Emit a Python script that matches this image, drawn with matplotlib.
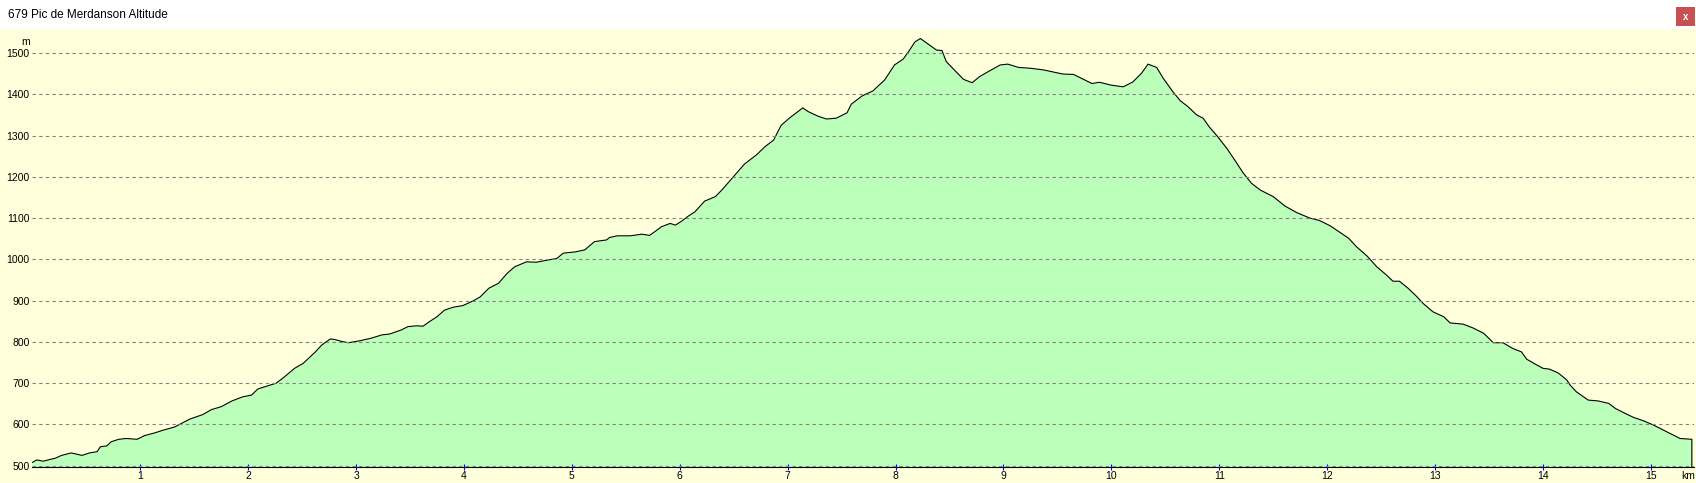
import numpy as np
import matplotlib
matplotlib.use('Agg')
from matplotlib import pyplot as plt
from matplotlib.patches import Rectangle

# Profile (km, m)
dist = [0.00, 0.04, 0.10, 0.16, 0.21, 0.27, 0.36, 0.46, 0.53, 0.60, 0.63, 0.69, 0.73, 0.80, 0.87, 0.97,
        1.04, 1.14, 1.21, 1.32, 1.37, 1.46, 1.58, 1.66, 1.75, 1.85, 1.95, 2.03, 2.09, 2.26, 2.33, 2.43,
        2.51, 2.62, 2.68, 2.76, 2.80, 2.87, 2.93, 3.04, 3.14, 3.24, 3.31, 3.42, 3.48, 3.56, 3.62, 3.68,
        3.75, 3.82, 3.90, 3.99, 4.09, 4.15, 4.23, 4.32, 4.40, 4.47, 4.58, 4.67, 4.77, 4.86, 4.92, 5.03,
        5.12, 5.21, 5.32, 5.35, 5.42, 5.54, 5.65, 5.72, 5.80, 5.83, 5.91, 5.96, 6.02, 6.08, 6.14, 6.23,
        6.33, 6.39, 6.47, 6.53, 6.60, 6.71, 6.79, 6.87, 6.94, 7.02, 7.10, 7.14, 7.19, 7.28, 7.36, 7.45,
        7.55, 7.59, 7.69, 7.79, 7.90, 7.99, 8.07, 8.12, 8.18, 8.23, 8.30, 8.38, 8.43, 8.47, 8.53, 8.63,
        8.71, 8.78, 8.86, 8.97, 9.04, 9.14, 9.25, 9.37, 9.55, 9.65, 9.82, 9.89, 10.00, 10.11, 10.20,
        10.28, 10.34, 10.42, 10.48, 10.57, 10.64, 10.71, 10.79, 10.85, 10.91, 10.98, 11.07, 11.15,
        11.22, 11.30, 11.38, 11.50, 11.61, 11.72, 11.84, 11.93, 12.03, 12.12, 12.20, 12.27, 12.37,
        12.46, 12.55, 12.61, 12.67, 12.75, 12.83, 12.89, 12.98, 13.08, 13.14, 13.26, 13.35, 13.45,
        13.54, 13.63, 13.72, 13.80, 13.85, 13.93, 14.00, 14.06, 14.14, 14.22, 14.25, 14.31, 14.42,
        14.51, 14.61, 14.67, 14.76, 14.84, 14.93, 15.02, 15.12, 15.21, 15.27, 15.38]
alt = [508, 514, 511, 515, 518, 525, 531, 525, 531, 534, 546, 548, 558, 564, 566, 564,
       573, 580, 586, 594, 601, 613, 624, 636, 643, 657, 667, 671, 686, 700, 714, 736,
       748, 775, 792, 807, 806, 801, 798, 803, 809, 817, 819, 829, 837, 839, 838, 849,
       861, 877, 884, 888, 900, 909, 930, 942, 966, 982, 994, 993, 998, 1002, 1015, 1018,
       1023, 1043, 1047, 1053, 1057, 1057, 1061, 1058, 1073, 1079, 1087, 1083, 1093, 1105, 1115, 1141,
       1152, 1168, 1192, 1210, 1231, 1253, 1273, 1289, 1325, 1343, 1359, 1367, 1358, 1347, 1340, 1342,
       1355, 1376, 1396, 1408, 1435, 1471, 1485, 1503, 1527, 1535, 1522, 1507, 1506, 1479, 1463, 1436,
       1428, 1443, 1455, 1471, 1473, 1465, 1463, 1459, 1449, 1448, 1426, 1429, 1422, 1418, 1430,
       1451, 1473, 1465, 1439, 1406, 1384, 1370, 1350, 1342, 1320, 1299, 1269, 1238,
       1210, 1184, 1168, 1152, 1129, 1113, 1100, 1094, 1081, 1065, 1051, 1031, 1008,
       982, 962, 947, 947, 930, 910, 893, 873, 861, 846, 843, 834, 821,
       798, 798, 784, 776, 758, 746, 736, 734, 725, 708, 696, 679, 659,
       657, 651, 639, 627, 617, 609, 599, 586, 574, 566, 564]

title = '679 Pic de Merdanson Altitude'
yticks = list(range(500, 1501, 100))
xticks = list(range(1, 16))

cream = '#ffffdc'
W, H = 1696, 483

fig = plt.figure(figsize=(W / 100, H / 100), dpi=100)
fig.patch.set_facecolor(cream)
plt.rcParams['font.family'] = ['Liberation Sans', 'DejaVu Sans']

# title bar
fig.patches.append(Rectangle((0, 1 - 29 / H), 1, 29 / H, transform=fig.transFigure,
                             facecolor='white', edgecolor='none', zorder=0))
fig.text(8 / W, 1 - 15 / H, title, ha='left', va='center', fontsize=8.5, color='black')
fig.patches.append(Rectangle((1676 / W, 1 - 26 / H), 19 / W, 19 / H, transform=fig.transFigure,
                             facecolor='#c75050', edgecolor='none', zorder=1))
fig.text(1685.5 / W, 1 - 16.5 / H, 'x', ha='center', va='center', fontsize=7,
         color='white', fontweight='bold')

ax = fig.add_axes([32.4 / W, 16 / H, (1694 - 32.4) / W, 438 / H])
ax.set_facecolor(cream)

base = 496.9
d = np.append(dist, dist[-1])
a = np.append(alt, base)
ax.fill_between(d, a, base, color='#bbffbb', linewidth=0, zorder=1)
ax.plot(d, a, color='black', linewidth=0.8, zorder=2)

ax.set_xlim(0, 15.40)
ax.set_ylim(base, 1558.1)

ax.set_axisbelow(False)
ax.yaxis.grid(True, color='#808080', linestyle=(0, (3, 3)), linewidth=0.8)
ax.xaxis.grid(False)

ax.set_yticks(yticks)
ax.set_xticks(xticks)
ax.tick_params(axis='y', length=0, pad=2, labelsize=7.5, labelcolor='black')
ax.tick_params(axis='x', direction='inout', length=4, width=0.8, color='blue', pad=1,
               labelsize=7.5, labelcolor='black')

for s in ['left', 'right', 'top']:
    ax.spines[s].set_visible(False)
ax.spines['bottom'].set_color('black')
ax.spines['bottom'].set_linewidth(0.8)

fig.text(25.7 / W, 1 - 42 / H, 'm', ha='center', va='center', fontsize=7.5)
fig.text(1688 / W, 1 - 476 / H, 'km', ha='center', va='center', fontsize=7.5)

fig.savefig('out.png', dpi=100, facecolor=fig.get_facecolor())
